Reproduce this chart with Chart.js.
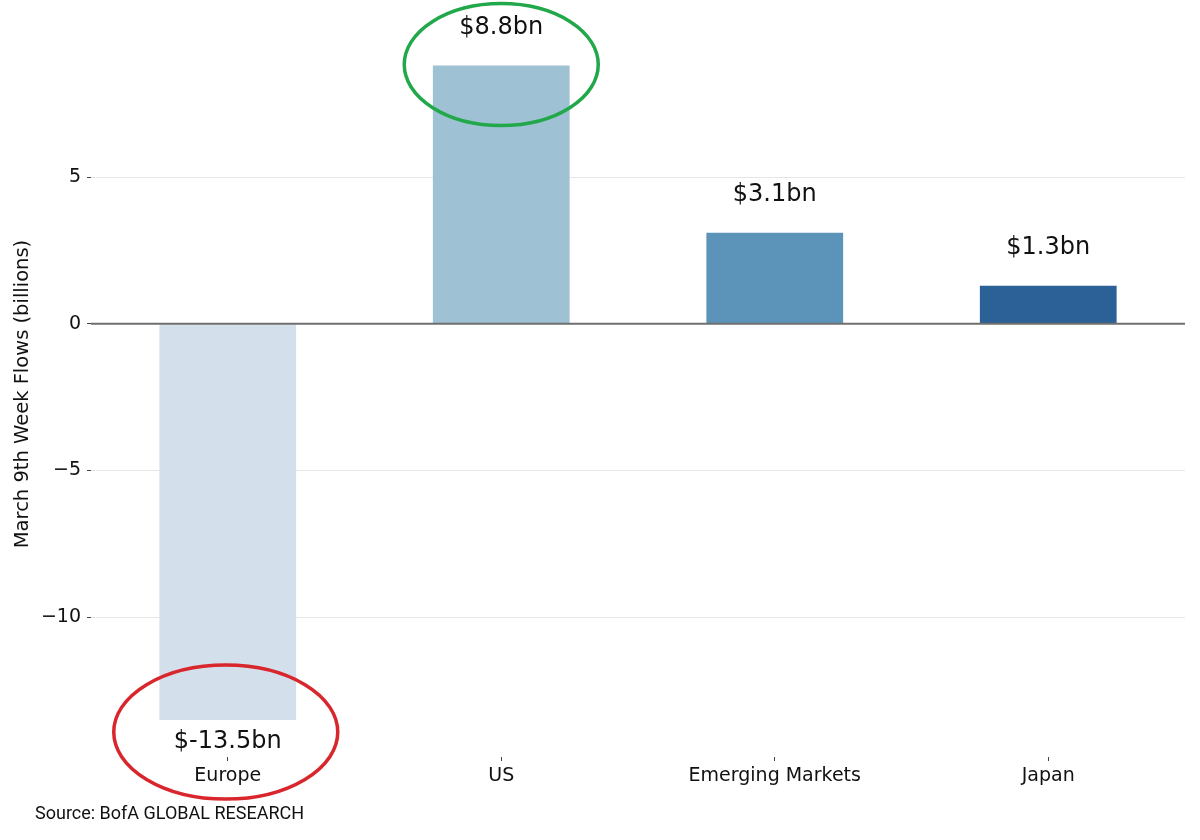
<!DOCTYPE html>
<html>
<head>
<meta charset="utf-8">
<script src="https://cdn.jsdelivr.net/npm/chart.js@4.4.1/dist/chart.umd.min.js"></script>
<style>
  html, body { margin: 0; padding: 0; background: #fff; }
  #wrap { width: 1200px; height: 840px; position: relative; }
</style>
</head>
<body>
<div id="wrap"><canvas id="flows"></canvas></div>
<script>
// weekly flows by region, $bn
const regions = ['Europe', 'US', 'Emerging Markets', 'Japan'];
const flows = [-13.5, 8.8, 3.1, 1.3];
const valueLabels = ['$-13.5bn', '$8.8bn', '$3.1bn', '$1.3bn'];
const barColors = ['#d3e0ec', '#9fc1d4', '#5b94b8', '#2b6196'];
const yTicks = [-10, -5, 0, 5];
// circled regions
const circled = ['Europe', 'US'];
const circleColors = ['#d9262c', '#22a84a'];

const yTitle = 'March 9th Week Flows (billions)';
const sourceText = 'Source: BofA GLOBAL RESEARCH';

// value labels, zero line, circles, y title, source
const annotate = {
  id: 'annotate',
  afterDatasetsDraw(chart) {
    const ctx = chart.ctx;
    const x = chart.scales.x, y = chart.scales.y;
    const area = chart.chartArea;

    // zero line on top of bars
    ctx.save();
    ctx.strokeStyle = '#6f6f6f';
    ctx.lineWidth = 2;
    ctx.beginPath();
    ctx.moveTo(area.left, y.getPixelForValue(0));
    ctx.lineTo(area.right, y.getPixelForValue(0));
    ctx.stroke();

    ctx.font = '24px "DejaVu Sans"';
    ctx.fillStyle = '#111';
    ctx.textAlign = 'center';
    ctx.textBaseline = 'middle';
    flows.forEach((v, i) => {
      const px = x.getPixelForValue(i);
      const py = y.getPixelForValue(v);
      ctx.fillText(valueLabels[i], px, v >= 0 ? py - 38 : py + 22);
    });

    ctx.lineWidth = 3.5;
    circled.forEach((name, k) => {
      const i = regions.indexOf(name);
      const v = flows[i];
      const px = x.getPixelForValue(i);
      const py = y.getPixelForValue(v);
      ctx.strokeStyle = circleColors[k];
      ctx.beginPath();
      if (v < 0) ctx.ellipse(px - 2, py + 12, 112, 67, 0, 0, Math.PI * 2);
      else ctx.ellipse(px, py - 1, 97, 61, 0, 0, Math.PI * 2);
      ctx.stroke();
    });
    ctx.restore();
  },
  afterDraw(chart) {
    const ctx = chart.ctx;
    ctx.save();
    ctx.fillStyle = '#111';
    ctx.font = '19.5px "DejaVu Sans"';
    ctx.textAlign = 'center';
    ctx.textBaseline = 'middle';
    ctx.translate(23, 394);
    ctx.rotate(-Math.PI / 2);
    ctx.fillText(yTitle, 0, 0);
    ctx.restore();

    ctx.save();
    ctx.fillStyle = '#111';
    ctx.font = '18px Roboto';
    ctx.textAlign = 'left';
    ctx.textBaseline = 'middle';
    ctx.fillText(sourceText, 35, 814);
    ctx.restore();
  }
};

new Chart(document.getElementById('flows'), {
  type: 'bar',
  data: {
    labels: regions,
    datasets: [{
      data: flows,
      backgroundColor: barColors,
      borderWidth: 0,
      categoryPercentage: 1,
      barPercentage: 0.5
    }]
  },
  options: {
    responsive: true,
    maintainAspectRatio: false,
    animation: false,
    layout: { padding: { left: 0, right: 15, top: 0, bottom: 43 } },
    plugins: {
      legend: { display: false },
      tooltip: { enabled: false }
    },
    scales: {
      x: {
        border: { display: false },
        grid: {
          offset: false,
          drawOnChartArea: false,
          color: '#444',
          tickLength: 4,
          lineWidth: 1
        },
        ticks: {
          color: '#111',
          font: { family: 'DejaVu Sans', size: 19 },
          padding: 4
        },
        afterFit(scale) { scale.height = 40; }
      },
      y: {
        min: -14.76,
        max: 10.44,
        border: { display: false },
        afterBuildTicks(scale) {
          scale.ticks = yTicks.map(v => ({ value: v }));
        },
        grid: {
          color: ctx => ctx.tick && ctx.tick.value === 0 ? 'rgba(0,0,0,0)' : '#e6e6e6',
          tickColor: '#444',
          tickLength: 4,
          lineWidth: 1
        },
        ticks: {
          color: '#111',
          font: { family: 'DejaVu Sans', size: 19 },
          padding: 6,
          callback: v => v < 0 ? '\u2212' + Math.abs(v) : String(v)
        },
        afterFit(scale) { scale.width = 91; }
      }
    }
  },
  plugins: [annotate]
});
</script>
</body>
</html>
